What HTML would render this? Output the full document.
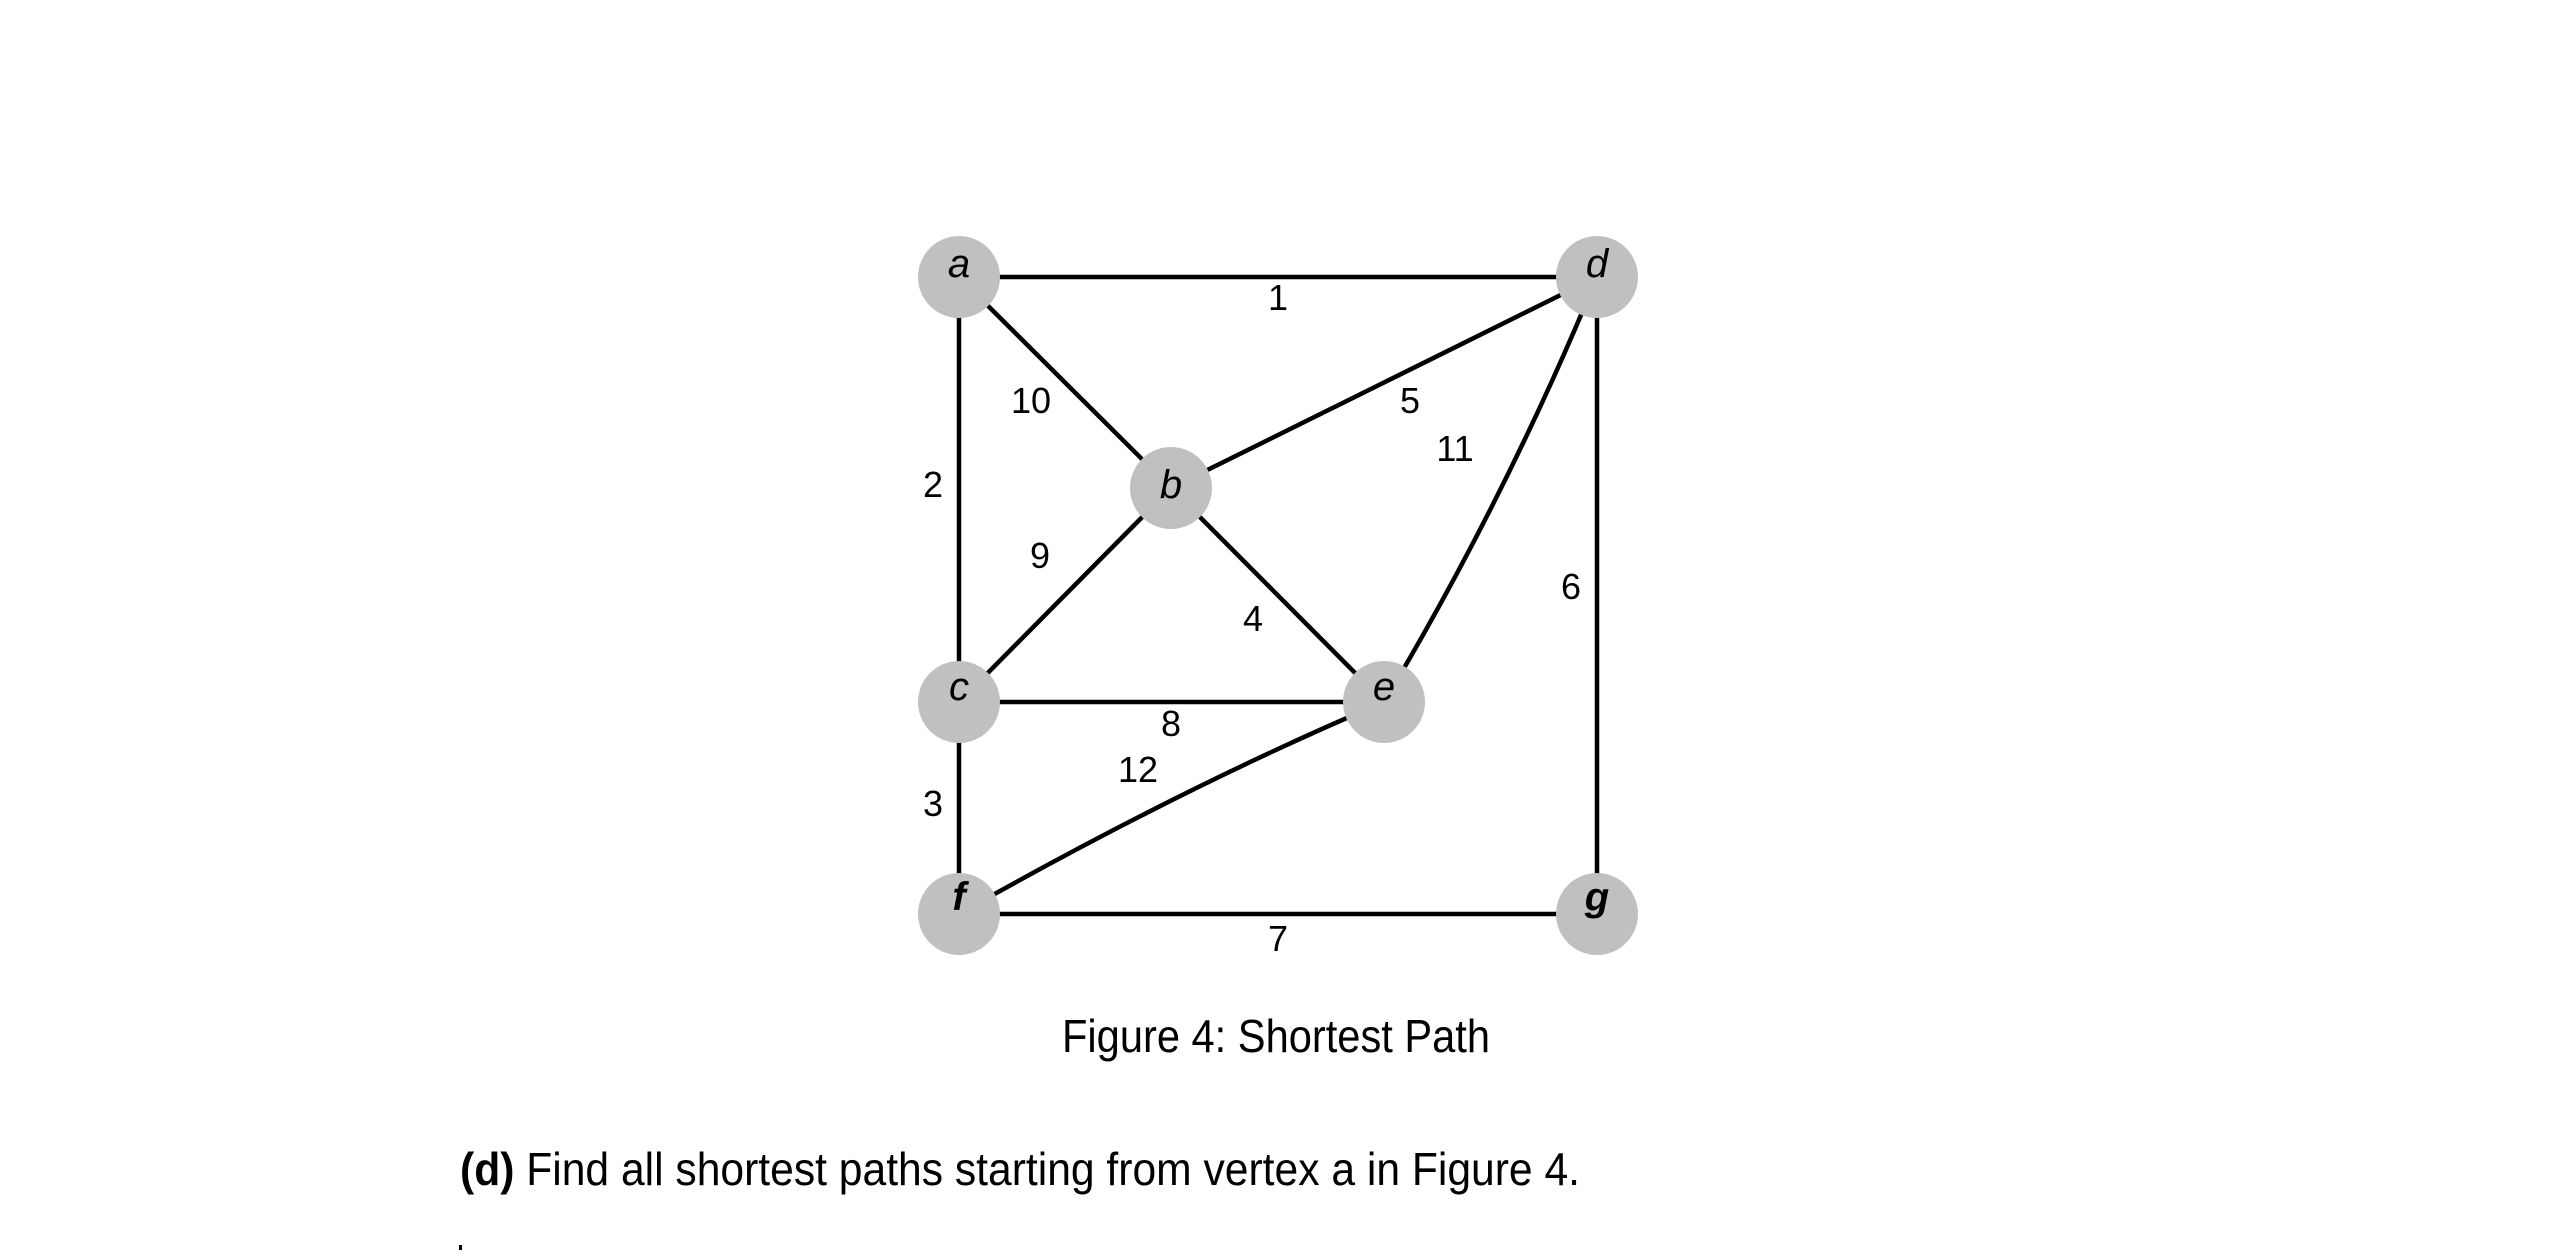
<!DOCTYPE html>
<html><head><meta charset="utf-8"><style>
html,body{margin:0;padding:0;background:#fff;}
svg{display:block;}
text{font-family:"Liberation Sans",Arial,sans-serif;fill:#000;}
</style></head><body>
<svg width="2550" height="1257" viewBox="0 0 2550 1257" xmlns="http://www.w3.org/2000/svg">
<g stroke="#000" stroke-width="4.5" fill="none">
<line x1="959" y1="277" x2="1597" y2="277"/>
<line x1="959" y1="277" x2="959" y2="914"/>
<line x1="959" y1="277" x2="1171" y2="488"/>
<line x1="1171" y1="488" x2="1597" y2="277"/>
<line x1="1171" y1="488" x2="959" y2="702"/>
<line x1="1171" y1="488" x2="1384" y2="702"/>
<line x1="959" y1="702" x2="1384" y2="702"/>
<line x1="1597" y1="277" x2="1597" y2="914"/>
<line x1="959" y1="914" x2="1597" y2="914"/>
<path d="M1597 277 Q1505 500 1384 702"/>
<path d="M1384 702 Q1185 786 959 914"/>
</g>
<g fill="#c0c0c0">
<circle cx="959" cy="277" r="41"/>
<circle cx="1597" cy="277" r="41"/>
<circle cx="1171" cy="488" r="41"/>
<circle cx="959" cy="702" r="41"/>
<circle cx="1384" cy="702" r="41"/>
<circle cx="959" cy="914" r="41"/>
<circle cx="1597" cy="914" r="41"/>
</g>
<g font-size="40" font-style="italic" text-anchor="middle">
<text x="959" y="277">a</text>
<text x="1597" y="277">d</text>
<text x="1171" y="498">b</text>
<text x="959" y="700">c</text>
<text x="1384" y="700">e</text>
<text x="959" y="910" font-weight="bold">f</text>
<text x="1597" y="910" font-weight="bold">g</text>
</g>
<g font-size="36" text-anchor="middle">
<text x="1278" y="310">1</text>
<text x="1031" y="413">10</text>
<text x="1410" y="413">5</text>
<text x="1455" y="461">11</text>
<text x="933" y="497">2</text>
<text x="1040" y="568">9</text>
<text x="1571" y="599">6</text>
<text x="1253" y="631">4</text>
<text x="1171" y="736">8</text>
<text x="1138" y="782">12</text>
<text x="933" y="816">3</text>
<text x="1278" y="951">7</text>
</g>
<text x="1062" y="1052" font-size="46" textLength="428" lengthAdjust="spacingAndGlyphs">Figure 4:  Shortest Path</text>
<text x="460" y="1185" font-size="46" textLength="1120" lengthAdjust="spacingAndGlyphs"><tspan font-weight="bold">(d)</tspan> Find all shortest paths starting from vertex a in Figure 4.</text>
<rect x="459" y="1245" width="3" height="5" fill="#000"/>
</svg>
</body></html>
